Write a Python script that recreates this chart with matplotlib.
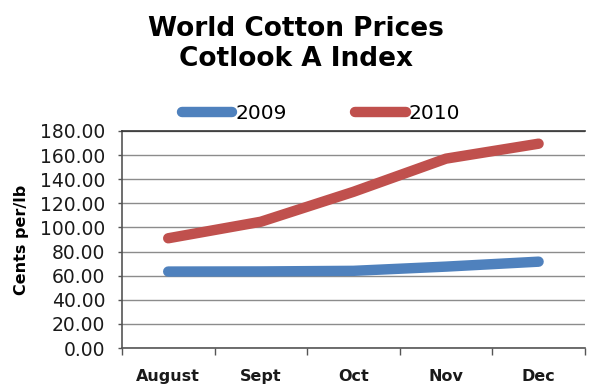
import matplotlib
matplotlib.use("Agg")
import matplotlib.pyplot as plt

months = ["August", "Sept", "Oct", "Nov", "Dec"]
prices_2009 = [63.4, 63.5, 64.0, 67.5, 71.6]
prices_2010 = [91.0, 104.7, 129.5, 157.0, 169.4]
yticks = [0, 20, 40, 60, 80, 100, 120, 140, 160, 180]

fig = plt.figure(figsize=(5.89, 3.85), dpi=100)
ax = fig.add_axes([0.207, 0.096, 0.786, 0.564])

x = list(range(len(months)))
ax.plot(x, prices_2009, color="#4F81BD", lw=7.5, solid_capstyle="round", solid_joinstyle="round", label="2009", zorder=3)
ax.plot(x, prices_2010, color="#C0504D", lw=7.5, solid_capstyle="round", solid_joinstyle="round", label="2010", zorder=3)

ax.set_xlim(-0.5, 4.5)
ax.set_ylim(0, 180)
ax.set_yticks(yticks)
ax.set_yticklabels([f"{v:.2f}" for v in yticks], fontsize=13.5, color="#1a1a1a")
ax.set_xticks([i + 0.5 for i in range(-1, 5)])
ax.set_xticklabels([])
ax.set_xticks(x, minor=True)
ax.set_xticklabels(months, minor=True, fontsize=11.5, fontweight="bold", color="#1a1a1a")
ax.tick_params(axis="x", which="minor", length=0, pad=15)
ax.tick_params(axis="x", which="major", length=5, width=1, color="#555555")
ax.tick_params(axis="y", length=3, width=1, color="#555555", pad=9)

ax.grid(axis="y", color="#8c8c8c", lw=1)
ax.set_axisbelow(True)
for s in ["left", "bottom"]:
    ax.spines[s].set_color("#555555")
    ax.spines[s].set_linewidth(1.2)
ax.spines["top"].set_color("#333333")
ax.spines["top"].set_linewidth(1.2)
ax.spines["right"].set_visible(False)

ax.set_ylabel("Cents per/lb", fontsize=11.5, fontweight="bold", labelpad=8)

fig.text(0.503, 0.886, "World Cotton Prices\nCotlook A Index", ha="center", va="center",
         fontsize=19, fontweight="heavy", linespacing=1.2)

leg = ax.legend(loc="lower center", bbox_to_anchor=(0.43, 1.0), ncol=2, frameon=False,
                fontsize=14.5, handlelength=2.5, columnspacing=3.4, handletextpad=0.15,
                borderaxespad=0.0)

fig.savefig("out.png", dpi=100)
